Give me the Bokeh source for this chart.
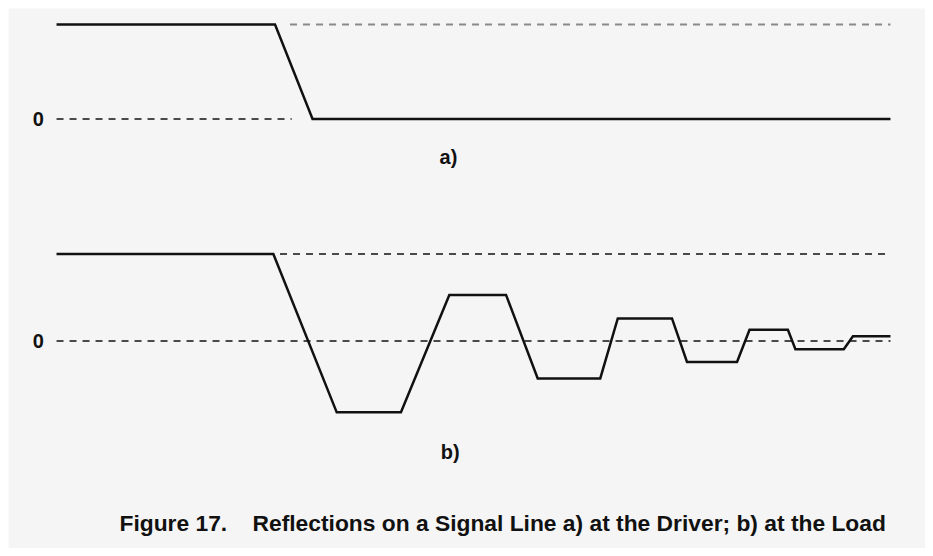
from bokeh.plotting import figure
from bokeh.models import Range1d
from bokeh.embed import file_html
from bokeh.resources import INLINE
from bokeh.core.properties import value

# ---- data (time in ns, voltage in normalized units) ----
t_a = [0.0, 26.2, 30.7, 100.0]
v_a = [1.0, 1.0, 0.0, 0.0]

t_b = [0.0, 26.0, 33.6, 41.3, 47.1, 53.9, 57.7, 65.2, 67.3, 73.8,
       75.6, 81.6, 83.1, 87.7, 88.6, 94.4, 95.5, 100.0]
v_b = [1.0, 1.0, -0.82, -0.82, 0.53, 0.53, -0.43, -0.43, 0.26, 0.26,
       -0.24, -0.24, 0.13, 0.13, -0.095, -0.095, 0.054, 0.054]

ref_a_high_t = [28.0, 100.0]
ref_a_zero_t = [0.0, 28.2]
ref_b_high_t = [26.8, 100.0]
ref_b_zero_t = [0.0, 100.0]

zero_label = "0"
panel_labels = ["a)", "b)"]
caption = "Figure 17.\u00a0\u00a0\u00a0\u00a0Reflections on a Signal Line a) at the Driver; b) at the Load"

W, H = 917, 540
BG = "#f5f5f5"

p = figure(width=W, height=H, output_backend="svg", toolbar_location=None,
           x_range=Range1d(-5.76, 104.2), y_range=Range1d(-4.545, 1.169),
           min_border=0, background_fill_color=BG, border_fill_color=BG,
           outline_line_color=None)
p.margin = (8, 0, 0, 8)
p.extra_y_ranges = {"b": Range1d(-2.385, 3.822)}
p.xaxis.visible = False
p.yaxis.visible = False
p.grid.visible = False

dash_col = "#4a4a4a"
# panel a reference lines
p.line(ref_a_high_t, [1.0, 1.0], line_color="#8a8a8a", line_width=2.0, line_dash="7 6")
p.line(ref_a_zero_t, [0.0, 0.0], line_color=dash_col, line_width=2.0, line_dash="7 6")
# panel a trace
p.line(t_a, v_a, line_color="#111111", line_width=2.5, line_join="miter")

# panel b reference lines
p.line(ref_b_high_t, [1.0, 1.0], y_range_name="b", line_color=dash_col,
       line_width=2.0, line_dash="7 6")
p.line(ref_b_zero_t, [0.0, 0.0], y_range_name="b", line_color=dash_col,
       line_width=2.0, line_dash="7 6")
# panel b trace
p.line(t_b, v_b, y_range_name="b", line_color="#111111", line_width=2.5,
       line_join="miter")

font = value("Liberation Sans")
# zero labels
p.text(x=[-2.2], y=[0.0], text=[zero_label], text_font=font, text_font_size="20px",
       text_font_style="bold", text_align="center", text_baseline="middle",
       text_color="#111111")
p.text(x=[-2.2], y=[0.0], y_range_name="b", text=[zero_label], text_font=font,
       text_font_size="20px", text_font_style="bold", text_align="center",
       text_baseline="middle", text_color="#111111")
# panel labels
p.text(x=[47.0], y=[-0.40], text=[panel_labels[0]], text_font=font,
       text_font_size="20px", text_font_style="bold", text_align="center",
       text_baseline="middle", text_color="#111111")
p.text(x=[47.2], y=[-1.28], y_range_name="b", text=[panel_labels[1]], text_font=font,
       text_font_size="20px", text_font_style="bold", text_align="center",
       text_baseline="middle", text_color="#111111")
# caption
p.text(x=[53.5], y=[-4.28], text=[caption], text_font=font,
       text_font_size="22.8px", text_font_style="bold", text_align="center",
       text_baseline="middle", text_color="#111111")

open("out.html", "w").write(file_html(p, INLINE))
